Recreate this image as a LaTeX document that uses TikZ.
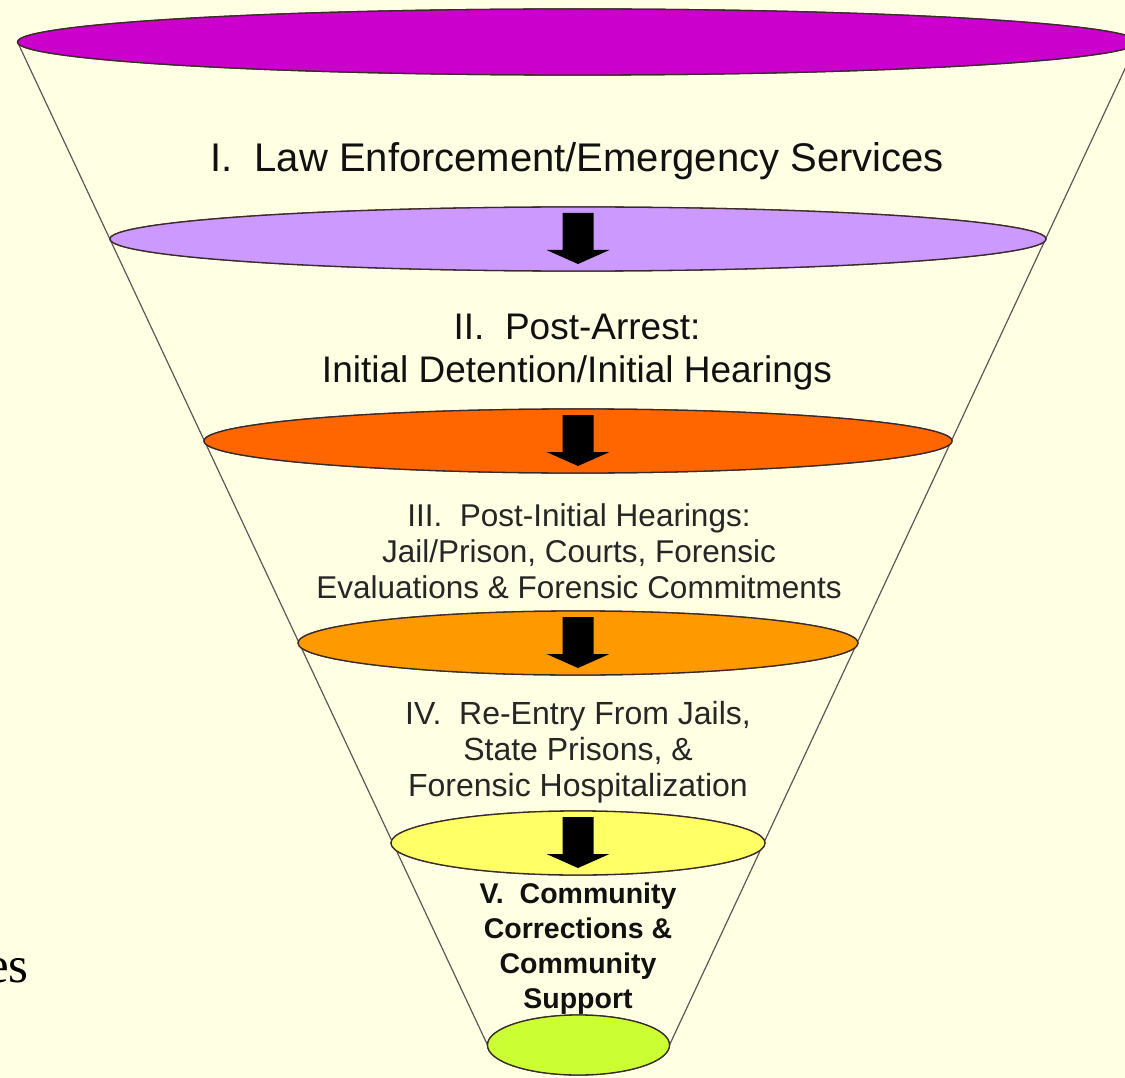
\documentclass[tikz,border=0pt]{standalone}
\usepackage{fontspec}
\setmainfont{Liberation Sans}
\newfontfamily\slideserif{Liberation Serif}
\usetikzlibrary{shapes.geometric}
\definecolor{bgcol}{HTML}{FFFFE3}
\definecolor{cmag}{HTML}{CC00CC}
\definecolor{clav}{HTML}{CC99FF}
\definecolor{cored}{HTML}{FF6600}
\definecolor{corange}{HTML}{FF9900}
\definecolor{cyel}{HTML}{FFFF66}
\definecolor{cgreen}{HTML}{CCFF33}
\definecolor{txtdark}{HTML}{111111}
\definecolor{txtgray}{HTML}{262626}
\definecolor{edgecol}{HTML}{3A2A2A}
\tikzset{
  disc/.style={ellipse, draw=edgecol, line width=1.3pt, inner sep=0pt, outer sep=0pt, minimum height=64pt},
  funnelline/.style={draw=edgecol!80, line width=1.2pt},
  stagetext/.style={align=center, anchor=base, inner sep=0pt},
  downarrow/.pic={\fill[black] (-15.5,-26) -- (15.5,-26) -- (15.5,11) -- (31.5,11) -- (0,25) -- (-31.5,11) -- (-15.5,11) -- cycle;}
}
\begin{document}
\begin{tikzpicture}[x=1pt,y=-1pt]
\useasboundingbox (0,0) rectangle (1125,1078);
\fill[bgcol] (0,0) rectangle (1125,1078);
\begin{scope}
\clip (0,0) rectangle (1125,1078);
% discs (named, used as end points of the funnel sides)
\node[disc, fill=cmag, minimum width=1120pt, minimum height=66pt] (e1) at (577.5,42) {};
\node[disc, fill=clav, minimum width=936pt] (e2) at (578,239) {};
\node[disc, fill=cored, minimum width=748pt] (e3) at (578,441) {};
\node[disc, fill=corange, minimum width=560pt] (e4) at (578,643) {};
\node[disc, fill=cyel, minimum width=374pt] (e5) at (578,843) {};
\node[disc, fill=cgreen, minimum width=182pt, minimum height=60pt] (e6) at (578.5,1045) {};
% funnel sides
\draw[funnelline] (e1.west) -- (e6.west);
\draw[funnelline] (e1.east) -- (e6.east);
% discs again, on top of the sides
\node[disc, fill=cmag, minimum width=1120pt, minimum height=66pt] at (e1.center) {};
\node[disc, fill=clav, minimum width=936pt] at (e2.center) {};
\node[disc, fill=cored, minimum width=748pt] at (e3.center) {};
\node[disc, fill=corange, minimum width=560pt] at (e4.center) {};
\node[disc, fill=cyel, minimum width=374pt] at (e5.center) {};
\node[disc, fill=cgreen, minimum width=182pt, minimum height=60pt] at (e6.center) {};
% arrows
\pic at (e2.center) {downarrow};
\pic at (e3.center) {downarrow};
\pic at (e4.center) {downarrow};
\pic at (e5.center) {downarrow};
% stage texts (anchor = baseline of the last line)
\node[stagetext, text=txtdark, font={\fontsize{40}{46}\selectfont}] (t1) at (577,172) {I.\ \ Law Enforcement/Emergency Services};
\node[stagetext, text=txtdark, font={\fontsize{37}{43}\selectfont}] (t2) at (577,382) {II.\ \ Post-Arrest:\\Initial Detention/Initial Hearings};
\node[stagetext, text=txtgray, font={\fontsize{31.5}{35.8}\selectfont}] (t3) at (579,598) {III.\ \ Post-Initial Hearings:\\Jail/Prison, Courts, Forensic\\Evaluations \& Forensic Commitments};
\node[stagetext, text=txtgray, font={\fontsize{32}{36}\selectfont}] (t4) at (578,796) {IV.\ \ Re-Entry From Jails,\\State Prisons, \&\\Forensic Hospitalization};
\node[stagetext, text=txtdark, font={\fontsize{28.5}{35}\selectfont\bfseries}] (t5) at (578,1008) {V.\ \ Community\\Corrections \&\\Community\\Support};
% cut-off slide text at the left edge
\node[anchor=base west, inner sep=0pt, text=black, font={\slideserif\fontsize{51}{60}\selectfont}] (cut) at (-14,982) {es};
\end{scope}
\end{tikzpicture}
\end{document}
